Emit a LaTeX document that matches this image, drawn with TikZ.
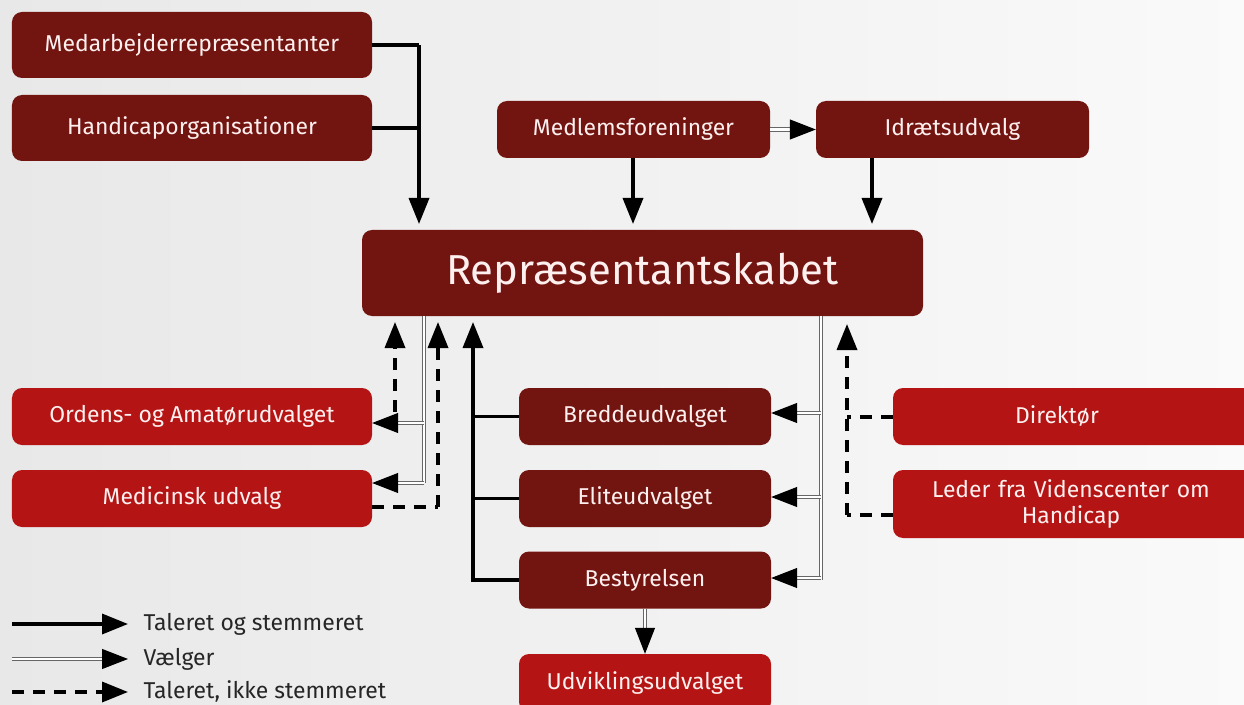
\documentclass[tikz,border=0pt]{standalone}
\usepackage{fontspec}
\setmainfont{Fira Sans}
\usetikzlibrary{arrows.meta}
\definecolor{dred}{HTML}{721410}
\definecolor{bred}{HTML}{B51414}
\tikzset{
  box/.style={fill=dred, rounded corners=10bp, text=white!94!red, font=\fontsize{23}{26}\selectfont, align=center, inner sep=0pt},
  rbox/.style={box, fill=bred},
  tip/.style={-{Triangle[length=26bp,width=20bp]}},
  solid arr/.style={tip, line width=3.5bp, black},
  dblline/.style={draw=black!60, line width=1bp, double=white, double distance=2.4bp},
  dbl arr/.style={dblline, -{Triangle[length=26bp,width=20bp,fill=black,color=black]}},
  dash arr/.style={tip, line width=3.5bp, black, dash pattern=on 12bp off 9bp},
  dash line/.style={line width=3.5bp, black, dash pattern=on 12bp off 9bp},
  legtext/.style={anchor=west, font=\fontsize{23}{26}\selectfont, text=black!85},
}
\begin{document}
\begin{tikzpicture}[x=1bp,y=-1bp]
\useasboundingbox (0,0) rectangle (1244,705);
\shade[left color=black!9, right color=black!2] (0,0) rectangle (1244,705);
% boxes
\node[box, minimum width=360bp, minimum height=66bp] (medarb) at (192,45) {Medarbejderrepræsentanter};
\node[box, minimum width=360bp, minimum height=66bp] (handi) at (192,128) {Handicaporganisationer};
\node[box, minimum width=273bp, minimum height=57bp] (medlem) at (633.5,129.5) {Medlemsforeninger};
\node[box, minimum width=273bp, minimum height=57bp] (idraet) at (952.5,129.5) {Idrætsudvalg};
\node[box, minimum width=561bp, minimum height=86bp, font=\fontsize{42}{46}\selectfont] (rep) at (642.5,273) {Repræsentantskabet};
\node[rbox, minimum width=360bp, minimum height=57bp] (ordens) at (192,416.5) {Ordens- og Amatørudvalget};
\node[rbox, minimum width=360bp, minimum height=57bp] (medic) at (192,498.5) {Medicinsk udvalg};
\node[box, minimum width=252bp, minimum height=57bp] (bredde) at (645,416.5) {Breddeudvalget};
\node[box, minimum width=252bp, minimum height=57bp] (elite) at (645,498.5) {Eliteudvalget};
\node[box, minimum width=252bp, minimum height=57bp] (bestyr) at (645,580) {Bestyrelsen};
\node[rbox, minimum width=252bp, minimum height=58bp] (udvik) at (645,683) {Udviklingsudvalget};
\node[rbox, minimum width=370bp, minimum height=57bp, text width=330bp] (direk) at (1078,416.5) {\hspace*{-42bp}Direktør};
\node[rbox, minimum width=370bp, minimum height=68bp, text width=330bp] (leder) at (1078,504) {\hspace*{-14bp}Leder fra Videnscenter om\\\hspace*{-14bp}Handicap};
% coordinates
\coordinate (j1) at (419,45);
\coordinate (j2) at (419,128);
% top-left solid
\draw[line width=3.5bp] (medarb.east |- j1) -- (j1);
\draw[line width=3.5bp] (handi.east |- j2) -- (j2);
\draw[solid arr] (j1) -- (419,224);
% top middle
\draw[solid arr] (633,158) -- (633,224);
\draw[solid arr] (872,158) -- (872,224);
\draw[dbl arr] (medlem.east) -- (idraet.west);
% left double
\coordinate (ld1) at (424,423);
\coordinate (ld2) at (424,483);
\draw[dblline] (424,316) -- (ld2);
\draw[dbl arr] (ld1) -- (ordens.east |- ld1);
\draw[dbl arr] (ld2) -- (ordens.east |- ld2);
% left dashed
\draw[dash arr] (395,412) -- (395,322);
\coordinate (md) at (438,507);
\draw[dash line] (medic.east |- md) -- (md);
\draw[dash arr] (md) -- (438,322);
% middle solid
\coordinate (sv) at (473,580);
\draw[line width=3.5bp] (bredde.west) -- (473,416.5);
\draw[line width=3.5bp] (elite.west) -- (473,498.5);
\draw[solid arr] (bestyr.west) -- (sv) -- (473,322);
% right double
\draw[dblline] (821,316) -- (821,580);
\draw[dbl arr] (821,413) -- (bredde.east |- 0,413);
\draw[dbl arr] (821,497) -- (bredde.east |- 0,497);
\draw[dbl arr] (821,578) -- (bredde.east |- 0,578);
% right dashed
\coordinate (rd1) at (847,417);
\coordinate (rd2) at (847,515);
\draw[dash line] (direk.west |- rd1) -- (rd1);
\draw[dash line] (leder.west |- rd2) -- (rd2);
\draw[dash arr] (rd2) -- (847,324);
% bestyrelsen -> udvikling
\draw[dbl arr] (bestyr.south) -- (udvik.north);
% legend
\coordinate (l1a) at (12,624); \coordinate (l1b) at (128,624);
\coordinate (l2a) at (12,659); \coordinate (l2b) at (128,659);
\coordinate (l3a) at (12,692); \coordinate (l3b) at (128,692);
\draw[solid arr] (l1a) -- (l1b);
\draw[dbl arr] (l2a) -- (l2b);
\draw[dash arr] (l3a) -- (l3b);
\node[legtext] (t1) at (140,624) {Taleret og stemmeret};
\node[legtext] (t2) at (140,659) {Vælger};
\node[legtext] (t3) at (140,691) {Taleret, ikke stemmeret};
\end{tikzpicture}
\end{document}
